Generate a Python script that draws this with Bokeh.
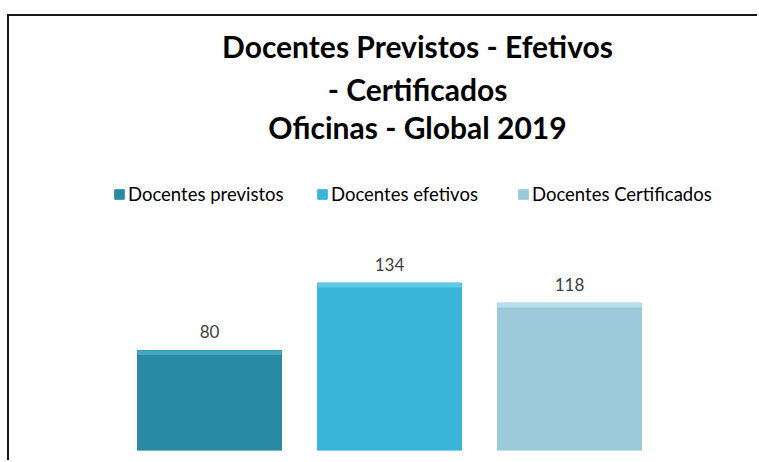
from bokeh.plotting import figure
from bokeh.models import (FactorRange, Range1d, LabelSet, ColumnDataSource,
                          Legend, LegendItem)
from bokeh.core.properties import value
from bokeh.embed import file_html
from bokeh.resources import INLINE

# ---- data ----
categories = ["Docentes previstos", "Docentes efetivos", "Docentes Certificados"]
values = [80, 134, 118]
colors = ["#2a8aa4", "#3ab5d9", "#9bc9d9"]
highlight = ["#43a7c2", "#5ccbea", "#b6dfec"]
title_lines = ["Docentes Previstos - Efetivos", "- Certificados", "Oficinas - Global 2019"]

src = ColumnDataSource(dict(cat=categories, val=values, lab=[str(v) for v in values]))

p = figure(width=750, height=446, output_backend="svg", toolbar_location=None,
           x_range=FactorRange(*categories, range_padding=0.5556,
                               range_padding_units="absolute"),
           y_range=Range1d(0, 347.2),
           x_axis_location=None, y_axis_location=None,
           min_border_left=10, min_border_right=0,
           min_border_top=0, min_border_bottom=12)
p.grid.visible = False
p.outline_line_color = None
p.background_fill_color = "white"
p.border_fill_color = "white"
p.styles = {"border-top": "2px solid #151515", "border-left": "2px solid #151515",
            "margin-top": "14px", "margin-left": "7px"}

renderers = []
for i, c in enumerate(categories):
    s = ColumnDataSource(dict(cat=[c], val=[values[i]], hb=[values[i] - 3.5]))
    r = p.vbar(x="cat", top="val", width=0.8, source=s, fill_color=colors[i],
               line_color=colors[i])
    # thin bevel highlight along the top edge
    p.vbar(x="cat", top="val", bottom="hb", width=0.8, source=s,
           fill_color=highlight[i], line_color=None)
    renderers.append(r)

labels = LabelSet(x="cat", y="val", text="lab", source=src, y_offset=19,
                  text_align="center", text_baseline="middle",
                  text_font=value("Lato"), text_font_size=value("17px"),
                  text_color="#404040")
p.add_layout(labels)

title_y = [323.6, 289.4, 259.0]
tsrc = ColumnDataSource(dict(x=[categories[1]] * len(title_lines), y=title_y,
                             t=title_lines))
p.text(x="x", y="y", text="t", source=tsrc, x_offset=28,
       text_align="center", text_baseline="middle",
       text_font=value("Lato"), text_font_style="bold", text_font_size="30px",
       text_color="#000000")

leg_x = [94, 297, 498]
for i, c in enumerate(categories):
    lg = Legend(items=[LegendItem(label=c, renderers=[renderers[i]])],
                location=(leg_x[i], 245), orientation="horizontal",
                glyph_width=12, glyph_height=12, label_standoff=3,
                padding=0, margin=0, spacing=0,
                border_line_color=None, background_fill_alpha=0,
                label_text_font="Lato", label_text_font_size="18.5px",
                label_text_color="#000000", label_height=18)
    p.add_layout(lg, "center")

open("out.html", "w").write(file_html(p, INLINE))
